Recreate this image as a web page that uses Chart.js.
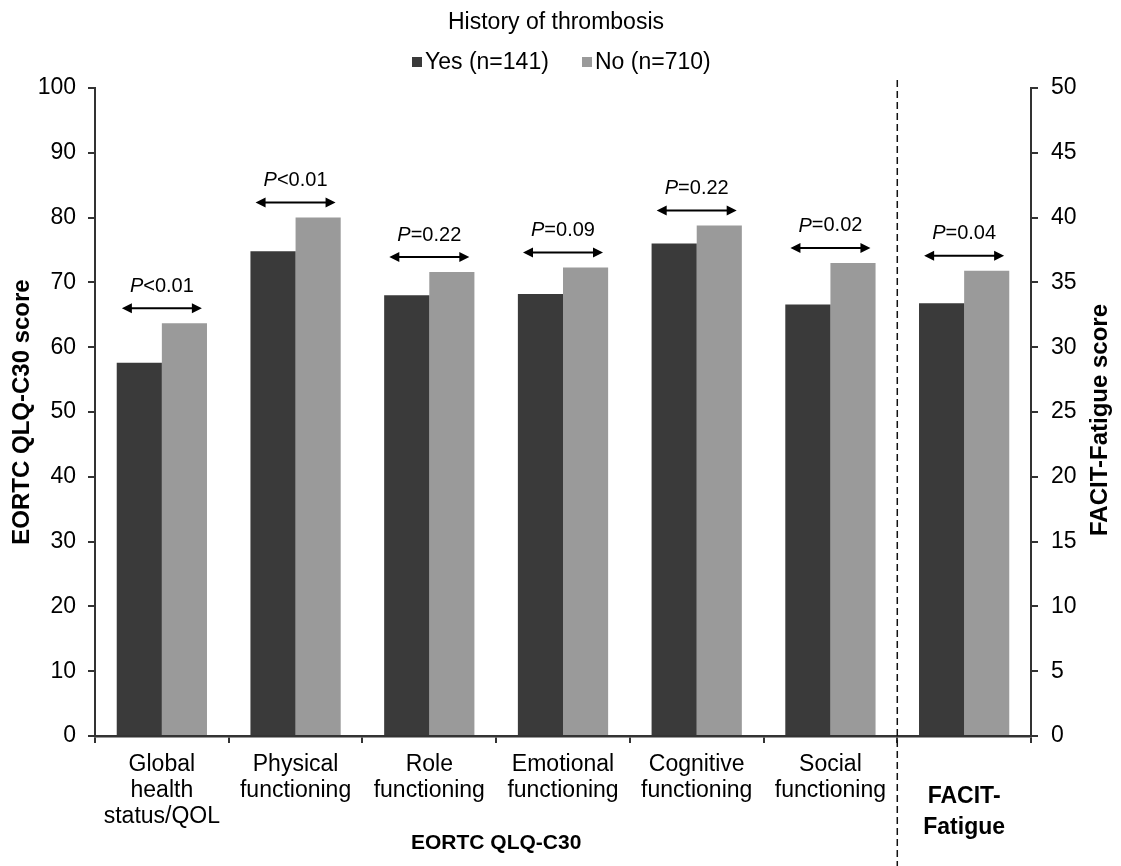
<!DOCTYPE html>
<html>
<head>
<meta charset="utf-8">
<script src="https://cdn.jsdelivr.net/npm/chart.js@4.4.1/dist/chart.umd.min.js"></script>
<style>
  html, body { margin: 0; padding: 0; background: #fff; }
</style>
</head>
<body>
<canvas id="chart" width="1121" height="866"></canvas>
<script>
const categories = [
  ["Global", "health", "status/QOL"],
  ["Physical", "functioning"],
  ["Role", "functioning"],
  ["Emotional", "functioning"],
  ["Cognitive", "functioning"],
  ["Social", "functioning"],
  [" ", "FACIT-", "Fatigue"]
];
// EORTC QLQ-C30 scores (left axis)
const yesEortc = [57.6, 74.8, 68.0, 68.2, 76.0, 66.6, null];
const noEortc = [63.7, 80.0, 71.6, 72.3, 78.8, 73.0, null];
// FACIT-Fatigue score (right axis)
const yesFacit = [null, null, null, null, null, null, 33.4];
const noFacit = [null, null, null, null, null, null, 35.9];
const pValues = ["<0.01", "<0.01", "=0.22", "=0.09", "=0.22", "=0.02", "=0.04"];
const seriesNames = ["Yes (n=141)", "No (n=710)"];

const DARK = "#3a3a3a";
const LIGHT = "#9a9a9a";
const FONT = "'Liberation Sans', Arial, sans-serif";

const annotations = {
  id: "annotations",
  afterDraw(chart) {
    const ctx = chart.ctx;
    const x = chart.scales.x;
    const y = chart.scales.y;
    const y2 = chart.scales.y2;
    const area = chart.chartArea;
    ctx.save();

    // title + legend
    ctx.fillStyle = "#000";
    ctx.textAlign = "center";
    ctx.textBaseline = "middle";
    ctx.font = "23px " + FONT;
    ctx.fillText("History of thrombosis", 556, 23);

    ctx.textAlign = "left";
    const legendX = [412, 582];
    const legendCol = [DARK, LIGHT];
    for (let i = 0; i < 2; i++) {
      ctx.fillStyle = legendCol[i];
      ctx.fillRect(legendX[i], 57, 10, 10);
      ctx.fillStyle = "#000";
      ctx.fillText(seriesNames[i], legendX[i] + 13, 63);
    }

    // dashed divider between EORTC and FACIT
    const divX = (x.getPixelForTick(5) + x.getPixelForTick(6)) / 2;
    ctx.strokeStyle = "#111";
    ctx.lineWidth = 1.5;
    ctx.setLineDash([7, 4]);
    ctx.beginPath();
    ctx.moveTo(divX, 80);
    ctx.lineTo(divX, 866);
    ctx.stroke();
    ctx.setLineDash([]);

    // P-value arrows
    for (let i = 0; i < categories.length; i++) {
      const cx = x.getPixelForValue(i);
      let top;
      if (yesEortc[i] != null) {
        top = Math.min(y.getPixelForValue(yesEortc[i]), y.getPixelForValue(noEortc[i]));
      } else {
        top = Math.min(y2.getPixelForValue(yesFacit[i]), y2.getPixelForValue(noFacit[i]));
      }
      const ay = top - 15;
      const half = 40;
      ctx.strokeStyle = "#000";
      ctx.fillStyle = "#000";
      ctx.lineWidth = 2;
      ctx.beginPath();
      ctx.moveTo(cx - half + 6, ay);
      ctx.lineTo(cx + half - 6, ay);
      ctx.stroke();
      ctx.beginPath();
      ctx.moveTo(cx - half, ay);
      ctx.lineTo(cx - half + 10, ay - 5);
      ctx.lineTo(cx - half + 10, ay + 5);
      ctx.closePath();
      ctx.fill();
      ctx.beginPath();
      ctx.moveTo(cx + half, ay);
      ctx.lineTo(cx + half - 10, ay - 5);
      ctx.lineTo(cx + half - 10, ay + 5);
      ctx.closePath();
      ctx.fill();

      ctx.font = "italic 20px " + FONT;
      const wP = ctx.measureText("P").width;
      ctx.font = "20px " + FONT;
      const wR = ctx.measureText(pValues[i]).width;
      const sx = cx - (wP + wR) / 2;
      ctx.textAlign = "left";
      ctx.textBaseline = "middle";
      ctx.font = "italic 20px " + FONT;
      ctx.fillText("P", sx, ay - 22);
      ctx.font = "20px " + FONT;
      ctx.fillText(pValues[i], sx + wP, ay - 22);
    }

    // group label under EORTC categories
    ctx.font = "bold 21px " + FONT;
    ctx.textAlign = "center";
    ctx.fillText("EORTC QLQ-C30", (area.left + divX) / 2, 843);

    // axis titles, both reading bottom to top
    ctx.font = "bold 24px " + FONT;
    ctx.save();
    ctx.translate(22, 412);
    ctx.rotate(-Math.PI / 2);
    ctx.fillText("EORTC QLQ-C30 score", 0, 0);
    ctx.restore();
    ctx.translate(1100, 420);
    ctx.rotate(-Math.PI / 2);
    ctx.fillText("FACIT-Fatigue score", 0, 0);
    ctx.restore();
  }
};

const barCommon = {
  skipNull: true,
  categoryPercentage: 0.675,
  barPercentage: 1.0,
  borderWidth: 0
};

new Chart(document.getElementById("chart"), {
  type: "bar",
  data: {
    labels: categories,
    datasets: [
      Object.assign({ label: seriesNames[0], data: yesEortc, backgroundColor: DARK, yAxisID: "y" }, barCommon),
      Object.assign({ label: seriesNames[1], data: noEortc, backgroundColor: LIGHT, yAxisID: "y" }, barCommon),
      Object.assign({ label: seriesNames[0], data: yesFacit, backgroundColor: DARK, yAxisID: "y2" }, barCommon),
      Object.assign({ label: seriesNames[1], data: noFacit, backgroundColor: LIGHT, yAxisID: "y2" }, barCommon)
    ]
  },
  options: {
    responsive: false,
    animation: false,
    layout: { padding: { top: 88, left: 0, right: 0, bottom: 0 } },
    plugins: {
      legend: { display: false },
      title: { display: false },
      tooltip: { enabled: false }
    },
    scales: {
      x: {
        offset: true,
        grid: { offset: true, drawOnChartArea: false, tickLength: 7, color: "#333", lineWidth: 2 },
        border: { color: "#333", width: 2.5 },
        ticks: {
          color: "#000",
          autoSkip: false,
          maxRotation: 0,
          padding: 8,
          font: (c) => c.index === 6
            ? { family: FONT, size: 23, weight: "bold", lineHeight: 1.33 }
            : { family: FONT, size: 23, lineHeight: 1.15 }
        },
        afterFit: (s) => { s.height = 130; }
      },
      y: {
        position: "left",
        min: 0,
        max: 100,
        ticks: { stepSize: 10, color: "#000", padding: 12, font: { family: FONT, size: 23 } },
        grid: { drawOnChartArea: false, tickLength: 7, color: "#333", lineWidth: 2 },
        border: { color: "#333", width: 2 },
        afterFit: (s) => { s.width = 95; }
      },
      y2: {
        position: "right",
        min: 0,
        max: 50,
        ticks: { stepSize: 5, color: "#000", padding: 13, font: { family: FONT, size: 23 } },
        grid: { drawOnChartArea: false, tickLength: 7, color: "#333", lineWidth: 2 },
        border: { color: "#333", width: 2 },
        afterFit: (s) => { s.width = 90; }
      }
    }
  },
  plugins: [annotations]
});
</script>
</body>
</html>
